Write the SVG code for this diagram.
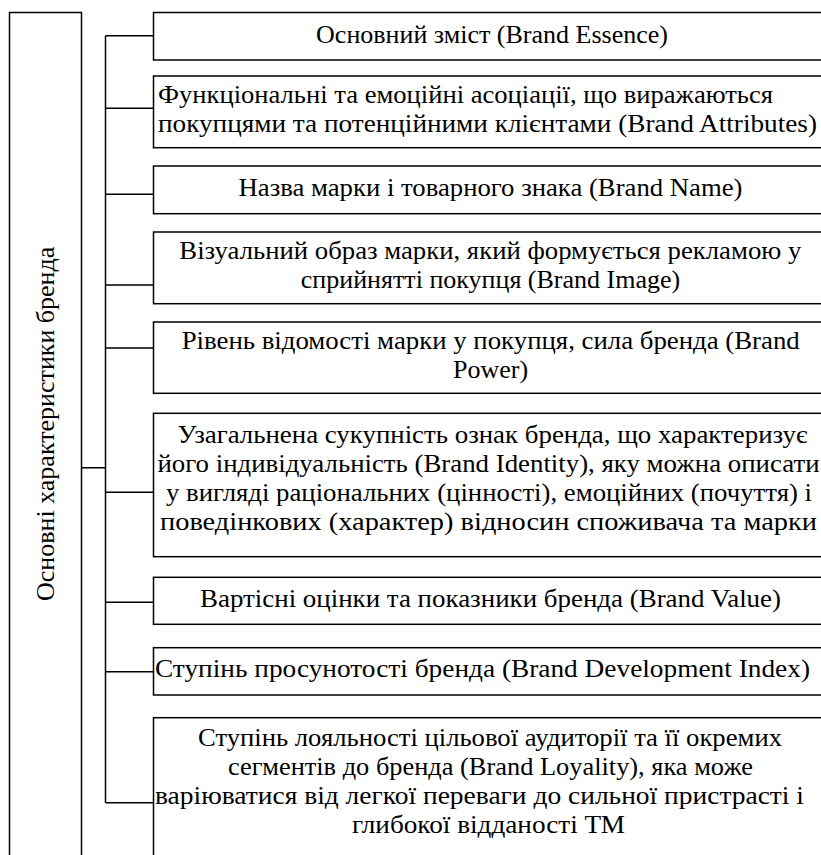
<svg xmlns="http://www.w3.org/2000/svg" width="821" height="855" viewBox="0 0 821 855">
<style>
.box{fill:#fff;stroke:#000;stroke-width:1.5}
.ln{fill:none;stroke:#000;stroke-width:1.5}
.t{font-family:'Liberation Serif','Times New Roman',serif;font-size:26px;fill:#000}
.c{text-anchor:middle}
</style>
<rect width="821" height="855" fill="#fff"/>
<g id="root">
<rect class="box" x="9.5" y="12.5" width="72" height="860"/>
<text class="t" transform="translate(53.5,601) rotate(-90)">Основні характеристики бренда</text>
</g>
<g id="connectors">
<path class="ln" d="M81.5,467.7H105.5M105.5,35.7V802.7M105.5,35.7H153.5M105.5,108.3H153.5M105.5,194.3H153.5M105.5,285H153.5M105.5,348H153.5M105.5,492.3H153.5M105.5,602.3H153.5M105.5,671.7H153.5M105.5,802.7H153.5"/>
</g>
<g id="n1"><rect class="box" x="153.5" y="12.5" width="680" height="47.5"/>
<text class="t c" x="492" y="43">Основний зміст (Brand Essence)</text></g>
<g id="n2"><rect class="box" x="153.5" y="76" width="680" height="71.7"/>
<text class="t" x="158" y="103" textLength="615" lengthAdjust="spacingAndGlyphs">Функціональні та емоційні асоціації, що виражаються</text>
<text class="t" x="158" y="132" textLength="659" lengthAdjust="spacingAndGlyphs">покупцями та потенційними клієнтами (Brand Attributes)</text></g>
<g id="n3"><rect class="box" x="153.5" y="166" width="680" height="47.7"/>
<text class="t" x="238.5" y="196" textLength="504" lengthAdjust="spacingAndGlyphs">Назва марки і товарного знака (Brand Name)</text></g>
<g id="n4"><rect class="box" x="153.5" y="232" width="680" height="71.7"/>
<text class="t" x="179.3" y="259" textLength="622" lengthAdjust="spacingAndGlyphs">Візуальний образ марки, який формується рекламою у</text>
<text class="t c" x="490.5" y="288">сприйнятті покупця (Brand Image)</text></g>
<g id="n5"><rect class="box" x="153.5" y="322" width="680" height="71.3"/>
<text class="t" x="181.7" y="349" textLength="618" lengthAdjust="spacingAndGlyphs">Рівень відомості марки у покупця, сила бренда (Brand</text>
<text class="t c" x="490.5" y="378">Power)</text></g>
<g id="n6"><rect class="box" x="153.5" y="413.3" width="680" height="143.4"/>
<text class="t" x="177.5" y="443" textLength="630" lengthAdjust="spacingAndGlyphs">Узагальнена сукупність ознак бренда, що характеризує</text>
<text class="t" x="157.5" y="472" textLength="662" lengthAdjust="spacingAndGlyphs">його індивідуальність (Brand Identity), яку можна описати</text>
<text class="t" x="166" y="501" textLength="646" lengthAdjust="spacingAndGlyphs">у вигляді раціональних (цінності), емоційних (почуття) і</text>
<text class="t" x="160" y="530" textLength="657" lengthAdjust="spacingAndGlyphs">поведінкових (характер) відносин споживача та марки</text></g>
<g id="n7"><rect class="box" x="153.5" y="577.3" width="680" height="47"/>
<text class="t" x="200" y="607" textLength="581" lengthAdjust="spacingAndGlyphs">Вартісні оцінки та показники бренда (Brand Value)</text></g>
<g id="n8"><rect class="box" x="153.5" y="647.7" width="680" height="47.3"/>
<text class="t" x="155" y="677" textLength="655" lengthAdjust="spacingAndGlyphs">Ступінь просунотості бренда (Brand Development Index)</text></g>
<g id="n9"><rect class="box" x="153.5" y="717.7" width="680" height="160"/>
<text class="t" x="198" y="746" textLength="584" lengthAdjust="spacingAndGlyphs">Ступінь лояльності цільової аудиторії та її окремих</text>
<text class="t" x="228" y="775" textLength="525" lengthAdjust="spacingAndGlyphs">сегментів до бренда (Brand Loyality), яка може</text>
<text class="t" x="155" y="804" textLength="649" lengthAdjust="spacingAndGlyphs">варіюватися від легкої переваги до сильної пристрасті і</text>
<text class="t" x="352" y="833" textLength="273" lengthAdjust="spacingAndGlyphs">глибокої відданості ТМ</text></g>
</svg>
